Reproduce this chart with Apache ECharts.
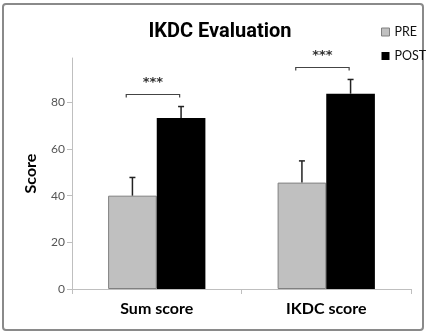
<!DOCTYPE html>
<html><head><meta charset="utf-8">
<script src="https://cdn.jsdelivr.net/npm/echarts@6/dist/echarts.min.js"></script>
<style>html,body{margin:0;padding:0;background:#fff}#c{width:429px;height:335px}</style>
</head><body><div id="c"></div>
<script>
const categories = ['Sum score', 'IKDC score'];
const preValues = [40, 45.6];
const preErrors = [7.8, 9.3];
const postValues = [73.3, 83.7];
const postErrors = [4.9, 6.1];
const yTicks = [0, 20, 40, 60, 80];
const sigLevels = [83.6, 95.3];
const sigLabels = ['***', '***'];

const FONT = 'Lato';
const BAR_W = 0.287;

const errData = [];
preValues.forEach((v, i) => errData.push([i, v, preErrors[i], -1]));
postValues.forEach((v, i) => errData.push([i, v, postErrors[i], 1]));
const sigData = sigLevels.map((v, i) => [i, v, sigLabels[i]]);

const chart = echarts.init(document.getElementById('c'), null, {renderer: 'canvas'});
chart.setOption({
  animation: false,
  backgroundColor: '#fff',
  title: {
    text: 'IKDC Evaluation', left: 215, top: 17, textAlign: 'center',
    textStyle: {fontFamily: 'Roboto', fontSize: 20, fontWeight: 'bold', color: '#000'}
  },
  legend: {
    orient: 'vertical', left: 381, top: 25, itemGap: 10, padding: 0,
    itemWidth: 8, itemHeight: 8, icon: 'rect',
    textStyle: {fontFamily: FONT, fontSize: 12.5, color: '#111', lineHeight: 14},
    data: [
      {name: 'PRE', itemStyle: {color: '#c0c0c0', borderColor: '#808080', borderWidth: 1}},
      {name: 'POST'}
    ]
  },
  graphic: [{
    type: 'rect', shape: {x: 3, y: 4, width: 420, height: 326, r: 3},
    style: {fill: 'none', stroke: '#8a8a8a', lineWidth: 2}, silent: true
  }],
  grid: {left: 72, right: 18, top: 58, bottom: 46},
  xAxis: {
    type: 'category', data: categories,
    axisLine: {lineStyle: {color: '#bfbfbf', width: 1}},
    axisTick: {show: true, length: 5, lineStyle: {color: '#bfbfbf'}},
    axisLabel: {margin: 12, fontFamily: FONT, fontSize: 16, fontWeight: 'bold', color: '#000'}
  },
  yAxis: {
    type: 'value', min: 0, max: 99,
    name: 'Score', nameLocation: 'middle', nameGap: 33,
    nameTextStyle: {fontFamily: FONT, fontSize: 16, fontWeight: 'bold', color: '#000'},
    axisLine: {show: true, lineStyle: {color: '#bfbfbf', width: 1}},
    axisTick: {show: true, length: 5, lineStyle: {color: '#bfbfbf'}, customValues: yTicks},
    axisLabel: {margin: 7, fontFamily: FONT, fontSize: 12, color: '#555', customValues: yTicks},
    splitLine: {show: false}
  },
  series: [
    {name: 'PRE', type: 'bar', data: preValues, barWidth: (BAR_W*100)+'%', barGap: '0%',
     itemStyle: {color: '#c0c0c0', borderColor: '#808080', borderWidth: 1}},
    {name: 'POST', type: 'bar', data: postValues, barWidth: (BAR_W*100)+'%', barGap: '0%',
     itemStyle: {color: '#000'}},
    {type: 'custom', data: errData, clip: false, z: 5,
     renderItem: function (params, api) {
       const c = api.value(0), v = api.value(1), e = api.value(2), side = api.value(3);
       const band = api.size([1, 0])[0];
       const p0 = api.coord([c, v]);
       const p1 = api.coord([c, v + e]);
       const x = p0[0] + side * band * BAR_W / 2;
       const st = {stroke: '#222', lineWidth: 1.5};
       return {type: 'group', children: [
         {type: 'line', shape: {x1: x, y1: p0[1], x2: x, y2: p1[1]}, style: st},
         {type: 'line', shape: {x1: x - 3, y1: p1[1], x2: x + 3, y2: p1[1]}, style: st}
       ]};
     }},
    {type: 'custom', data: sigData, clip: false, z: 5,
     renderItem: function (params, api) {
       const c = api.value(0), v = api.value(1);
       const band = api.size([1, 0])[0];
       const p = api.coord([c, v]);
       const x1 = p[0] - band * 0.18, x2 = p[0] + band * 0.135;
       const y = Math.round(p[1]) + 0.5;
       const st = {stroke: '#444', lineWidth: 1.2, fill: 'none'};
       return {type: 'group', children: [
         {type: 'polyline', shape: {points: [[x1, y + 3], [x1, y], [x2, y], [x2, y + 3]]}, style: st},
         {type: 'text', x: (x1 + x2) / 2, y: y - 12,
          style: {text: sigLabels[params.dataIndex], align: 'center', verticalAlign: 'middle',
                  fontFamily: 'DejaVu Sans', fontSize: 13, fontWeight: 'bold', fill: '#333'}}
       ]};
     }}
  ]
});
</script></body></html>
